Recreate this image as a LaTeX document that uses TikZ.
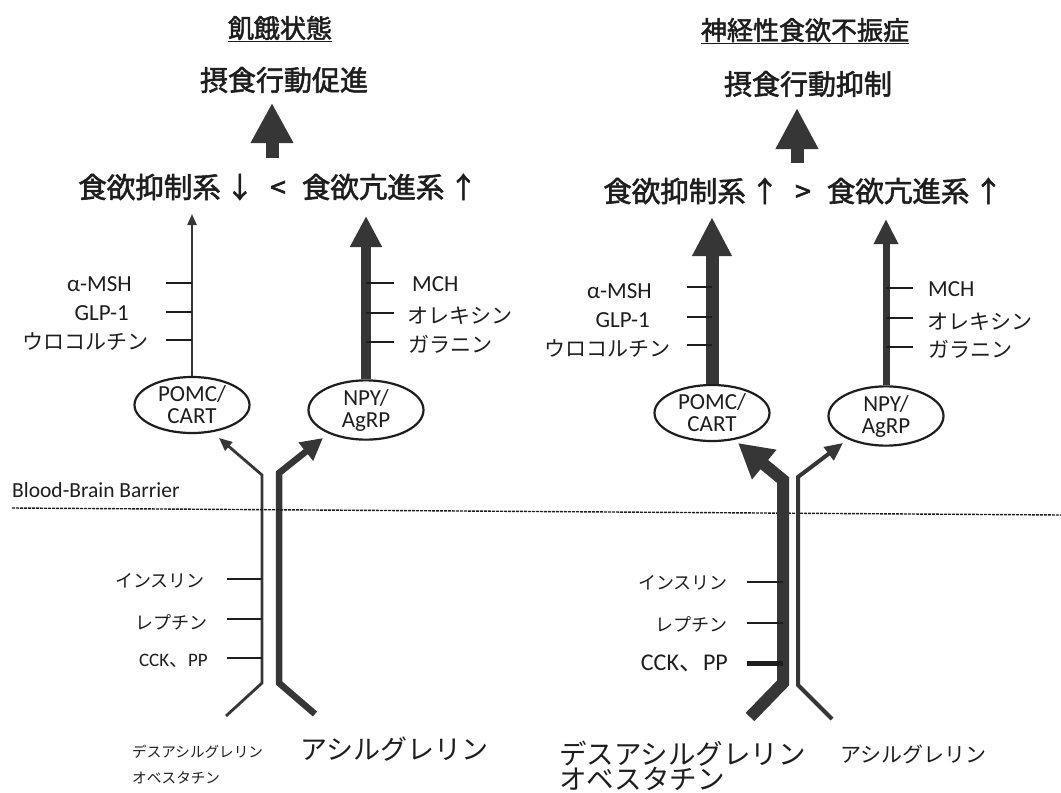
\documentclass[tikz,border=0pt]{standalone}
\usepackage{fontspec}
\setmainfont{Carlito}
\newfontfamily\cjk{Noto Sans CJK JP}
\newfontfamily\cjkm{Noto Sans CJK JP}[FakeBold=2]
\usetikzlibrary{arrows.meta,shapes.geometric}
\definecolor{ink}{HTML}{1E1E1E}
\definecolor{fillg}{HTML}{363636}
\tikzset{
  every node/.style={inner sep=0pt, text=ink},
  jp/.style={font=\cjk\fontsize{#1}{#1}\selectfont},
  jpb/.style={font=\cjkm\fontsize{#1}{#1}\selectfont},
  lt/.style={font=\fontsize{#1}{#1}\selectfont},
  cell/.style={ellipse, draw=ink, line width=2.2pt, minimum width=115pt, minimum height=56pt,
    align=center, font=\fontsize{23}{22}\selectfont},
  tick/.style={draw=ink, line width=2.6pt},
  arr/.style n args={3}{draw=fillg, line width=#1, line join=miter,
    -{Triangle[width=#2,length=#3]}},
  uline/.style={draw=ink, line width=1.4pt}
}
\begin{document}
\begin{tikzpicture}[x=1pt,y=-1pt]
\useasboundingbox (0,0) rectangle (1061,793);
\fill[white] (0,0) rectangle (1061,793);

% ================= LEFT PANEL =================
\node[jpb=26] (titleL) at (280,28) {飢餓状態};
\draw[uline] ([yshift=-1pt]titleL.south west) -- ([yshift=-1pt]titleL.south east);
\node[jpb=28] (actL) at (284,80) {摂食行動促進};
\node[jpb=28.5] (cmpL) at (278,187) {食欲抑制系\,↓\hspace{16pt}<\hspace{16pt}食欲亢進系\,↑};
\coordinate (bigLb) at (272,158);
\coordinate (bigLt) at (272,103);
\draw[arr={13pt}{40pt}{40pt}] (bigLb) -- (bigLt);

\node[cell] (pomcL) at (192,405) {POMC/\\CART};
\node[cell] (npyL) at (366,410) {NPY/\\AgRP};
\coordinate (pomcLup) at (192,214);
\coordinate (npyLup) at (366,216);
\draw[arr={2.2pt}{9pt}{11pt}] (pomcL.north) -- (pomcLup);
\draw[arr={10pt}{30pt}{31pt}] (npyL.north) -- (npyLup);

\draw[tick] (166,283) -- (192,283);
\draw[tick] (166,312) -- (192,312);
\draw[tick] (166,340) -- (192,340);
\node[lt=23, anchor=east] (msL) at (132,284) {α-MSH};
\node[lt=23, anchor=east] (glL) at (129,313) {GLP-1};
\node[jp=21, anchor=east] (ucL) at (149,342) {ウロコルチン};

\draw[tick] (366,283) -- (394,283);
\draw[tick] (366,313) -- (394,313);
\draw[tick] (366,342) -- (394,342);
\node[lt=23, anchor=west] (mcL) at (412,284) {MCH};
\node[jp=21, anchor=west] (orL) at (407,316) {オレキシン};
\node[jp=21, anchor=west] (gaL) at (408,344) {ガラニン};

% bottom left
\coordinate (dLa) at (226,716);
\coordinate (dLb) at (262,683);
\coordinate (dLc) at (262,475);
\coordinate (dLd) at (219,438);
\draw[arr={2.8pt}{11pt}{13pt}] (dLa) -- (dLb) -- (dLc) -- (dLd);
\coordinate (aLa) at (315,714);
\coordinate (aLb) at (279,683);
\coordinate (aLc) at (279,473);
\coordinate (aLd) at (323,438);
\draw[arr={6.5pt}{22pt}{22pt}] (aLa) -- (aLb) -- (aLc) -- (aLd);

\draw[tick] (227,579) -- (262,579);
\draw[tick] (227,619) -- (262,619);
\draw[tick] (227,658) -- (262,658);
\node[jp=18, anchor=east] (inL) at (205,581) {インスリン};
\node[jp=18, anchor=east] (lpL) at (208,622) {レプチン};
\node[lt=19, anchor=east] (ckL) at (208,661) {CCK{\cjk 、}PP};

\node[jp=14.6, anchor=west] (dsL) at (132,752) {デスアシルグレリン};
\node[jp=14.6, anchor=west] (obL) at (132,778) {オベスタチン};
\node[jp=27, anchor=west] (acL) at (300,749) {アシルグレリン};

% ================= BARRIER =================
\node[lt=21.5, anchor=west] (bbb) at (12,490) {Blood-Brain Barrier};
\draw[ink, line width=1.4pt, dash pattern=on 3pt off 1pt] (12,508) -- (1061,515);

% ================= RIGHT PANEL =================
\node[jpb=26] (titleR) at (805,30) {神経性食欲不振症};
\draw[uline] ([yshift=-1pt]titleR.south west) -- ([yshift=-1pt]titleR.south east);
\node[jpb=28] (actR) at (808,84) {摂食行動抑制};
\node[jpb=28.5] (cmpR) at (803,191) {食欲抑制系\,↑\hspace{16pt}>\hspace{16pt}食欲亢進系\,↑};
\coordinate (bigRb) at (797,163);
\coordinate (bigRt) at (797,108);
\draw[arr={13pt}{40pt}{41pt}] (bigRb) -- (bigRt);

\node[cell] (pomcR) at (712,413) {POMC/\\CART};
\node[cell] (npyR) at (886,416) {NPY/\\AgRP};
\coordinate (pomcRup) at (712,217);
\coordinate (npyRup) at (886,219);
\draw[arr={13pt}{37pt}{39pt}] (pomcR.north) -- (pomcRup);
\draw[arr={7pt}{23pt}{25pt}] (npyR.north) -- (npyRup);

\draw[tick] (687,287) -- (712,287);
\draw[tick] (687,317) -- (712,317);
\draw[tick] (687,345) -- (712,345);
\node[lt=23, anchor=east] (msR) at (652,291) {α-MSH};
\node[lt=23, anchor=east] (glR) at (650,320) {GLP-1};
\node[jp=21, anchor=east] (ucR) at (671,349) {ウロコルチン};

\draw[tick] (886,288) -- (913,288);
\draw[tick] (886,318) -- (913,318);
\draw[tick] (886,347) -- (913,347);
\node[lt=23, anchor=west] (mcR) at (928,289) {MCH};
\node[jp=21, anchor=west] (orR) at (927,322) {オレキシン};
\node[jp=21, anchor=west] (gaR) at (928,349) {ガラニン};

% bottom right
\coordinate (dRa) at (750,717);
\coordinate (dRb) at (783,683);
\coordinate (dRc) at (783,480);
\coordinate (dRd) at (738,443);
\draw[arr={12pt}{36pt}{34pt}] (dRa) -- (dRb) -- (dRc) -- (dRd);
\coordinate (aRa) at (832,719);
\coordinate (aRb) at (798,685);
\coordinate (aRc) at (798,477);
\coordinate (aRd) at (843,443);
\draw[arr={4pt}{16pt}{18pt}] (aRa) -- (aRb) -- (aRc) -- (aRd);

\draw[tick] (747,582) -- (783,582);
\draw[tick] (747,623) -- (783,623);
\draw[tick, line width=5pt] (747,663) -- (783,663);
\node[jp=18, anchor=east] (inR) at (728,583) {インスリン};
\node[jp=18, anchor=east] (lpR) at (728,624) {レプチン};
\node[lt=24, anchor=east] (ckR) at (728,663) {CCK{\cjk 、}PP};

\node[jp=27.5, anchor=west] (dsR) at (559,754) {デスアシルグレリン};
\node[jp=27.5, anchor=west] (obR) at (559,779) {オベスタチン};
\node[jp=21, anchor=west] (acR) at (840,754) {アシルグレリン};
\end{tikzpicture}
\end{document}
